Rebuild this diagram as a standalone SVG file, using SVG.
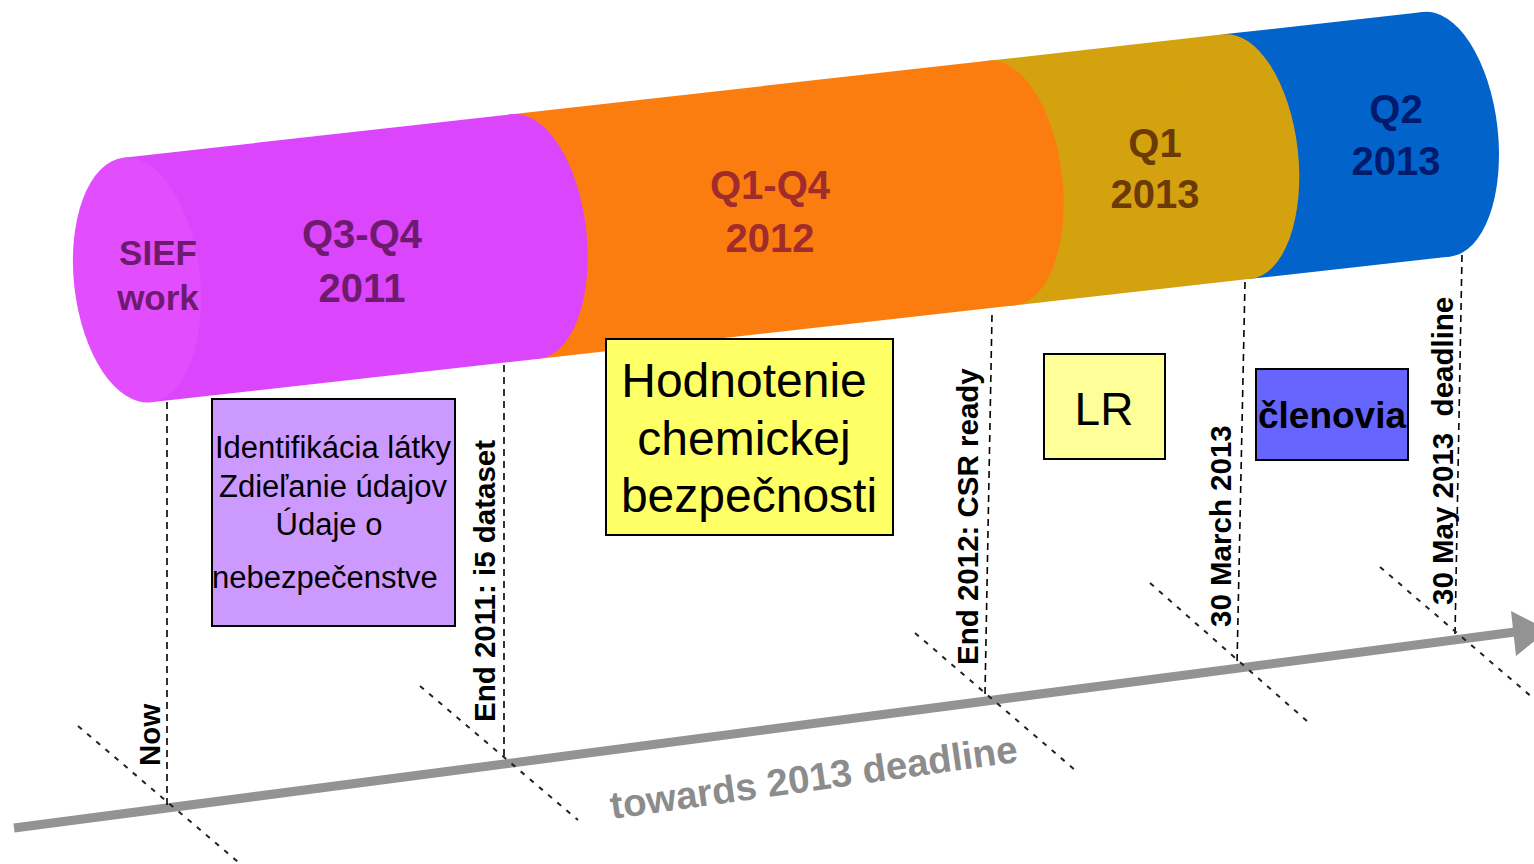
<svg xmlns="http://www.w3.org/2000/svg" width="1534" height="864" viewBox="0 0 1534 864">
<defs>
<style>
.cyl{font-family:"Liberation Sans",Arial,sans-serif;font-weight:bold;text-anchor:middle}
.lbl{font-family:"Liberation Sans",Arial,sans-serif;font-weight:bold;font-size:29.5px;fill:#000}
.box{stroke:#000;stroke-width:2}
.bt{font-family:"Liberation Sans",Arial,sans-serif;fill:#000}
.vdash{stroke:#000;stroke-width:1.6;stroke-dasharray:7,5;fill:none}
.ddash{stroke:#222;stroke-width:2;stroke-dasharray:5,7;fill:none}
</style>
</defs>
<rect width="1534" height="864" fill="#fff"/>

<g id="cylinder" transform="translate(137,280) rotate(-6.4)">
  <g id="seg-q2-2013">
    <rect x="1107" y="-123" width="201" height="246" fill="#0264CB"/>
    <ellipse cx="1308" cy="0" rx="61" ry="123" fill="#0264CB"/>
  </g>
  <g id="seg-q1-2013">
    <rect x="870" y="-123" width="237" height="246" fill="#D5A20F"/>
    <ellipse cx="1107" cy="0" rx="61" ry="123" fill="#D5A20F"/>
  </g>
  <g id="seg-2012">
    <rect x="391" y="-123" width="479" height="246" fill="#FC7D0F"/>
    <ellipse cx="870" cy="0" rx="61" ry="123" fill="#FC7D0F"/>
  </g>
  <g id="seg-2011">
    <rect x="0" y="-123" width="391" height="246" fill="#DB45FC"/>
    <ellipse cx="391" cy="0" rx="61" ry="123" fill="#DB45FC"/>
    <ellipse cx="0" cy="0" rx="63" ry="123" fill="#E24EFE"/>
  </g>
</g>

<g id="cyl-labels">
  <text class="cyl" x="158" y="265" font-size="35" fill="#6E1A6E">SIEF</text>
  <text class="cyl" x="158" y="310" font-size="35" fill="#6E1A6E">work</text>
  <text class="cyl" x="362" y="248" font-size="40" fill="#6E1A6E">Q3-Q4</text>
  <text class="cyl" x="362" y="302" font-size="40" fill="#6E1A6E">2011</text>
  <text class="cyl" x="770" y="199" font-size="40" fill="#A02C2C">Q1-Q4</text>
  <text class="cyl" x="770" y="252" font-size="40" fill="#A02C2C">2012</text>
  <text class="cyl" x="1155" y="157" font-size="40" fill="#6B3A06">Q1</text>
  <text class="cyl" x="1155" y="208" font-size="40" fill="#6B3A06">2013</text>
  <text class="cyl" x="1396" y="123" font-size="40" fill="#001A6E">Q2</text>
  <text class="cyl" x="1396" y="175" font-size="40" fill="#001A6E">2013</text>
</g>

<g id="connectors">
  <line x1="14" y1="828" x2="1515" y2="632" stroke="#939393" stroke-width="9"/>
  <polygon points="1511,611 1548,630 1516,656" fill="#939393"/>
  <line class="vdash" x1="167" y1="402" x2="167" y2="806"/>
  <line class="vdash" x1="504" y1="365" x2="504" y2="757"/>
  <line class="vdash" x1="992" y1="315" x2="985" y2="694"/>
  <line class="vdash" x1="1245" y1="282" x2="1237" y2="665"/>
  <line class="vdash" x1="1462" y1="255" x2="1455" y2="636"/>
  <line class="ddash" x1="78" y1="726" x2="238" y2="862"/>
  <line class="ddash" x1="420" y1="686" x2="578" y2="820"/>
  <line class="ddash" x1="915" y1="633" x2="1075" y2="770"/>
  <line class="ddash" x1="1150" y1="583" x2="1308" y2="722"/>
  <line class="ddash" x1="1380" y1="567" x2="1540" y2="704"/>
</g>

<g id="milestones">
  <text class="lbl" transform="translate(160,766) rotate(-90)">Now</text>
  <text class="lbl" transform="translate(495,722) rotate(-90)">End 2011: i5 dataset</text>
  <text class="lbl" transform="translate(978,665) rotate(-90)">End 2012: CSR ready</text>
  <text class="lbl" transform="translate(1231,627) rotate(-90)">30 March 2013</text>
  <text class="lbl" transform="translate(1453,605) rotate(-90)" xml:space="preserve">30 May 2013  deadline</text>
</g>

<g id="axis-label">
  <text transform="translate(612,819) rotate(-8)" font-family="Liberation Sans, Arial, sans-serif" font-weight="bold" font-size="38.5" fill="#8C8C8C">towards 2013 deadline</text>
</g>

<g id="box-sief">
  <rect class="box" x="212" y="399" width="243" height="227" fill="#CC99FF"/>
  <text class="bt" font-size="31" text-anchor="middle" x="333" y="458">Identifikácia látky</text>
  <text class="bt" font-size="31" text-anchor="middle" x="333" y="497">Zdieľanie údajov</text>
  <text class="bt" font-size="31" text-anchor="middle" x="329" y="535">Údaje o</text>
  <text class="bt" font-size="31" x="212" y="588">nebezpečenstve</text>
</g>

<g id="box-csa">
  <rect class="box" x="606" y="339" width="287" height="196" fill="#FFFF66"/>
  <text class="bt" font-size="48" text-anchor="middle" x="744" y="397">Hodnotenie</text>
  <text class="bt" font-size="48" text-anchor="middle" x="744" y="455">chemickej</text>
  <text class="bt" font-size="48" text-anchor="middle" x="749" y="512">bezpečnosti</text>
</g>

<g id="box-lr">
  <rect class="box" x="1044" y="354" width="121" height="105" fill="#FFFF99"/>
  <text class="bt" font-size="46" text-anchor="middle" x="1104" y="425">LR</text>
</g>

<g id="box-members">
  <rect class="box" x="1256" y="369" width="152" height="91" fill="#6666FF"/>
  <text class="bt" font-size="37" font-weight="bold" text-anchor="middle" x="1332" y="428">členovia</text>
</g>
</svg>
